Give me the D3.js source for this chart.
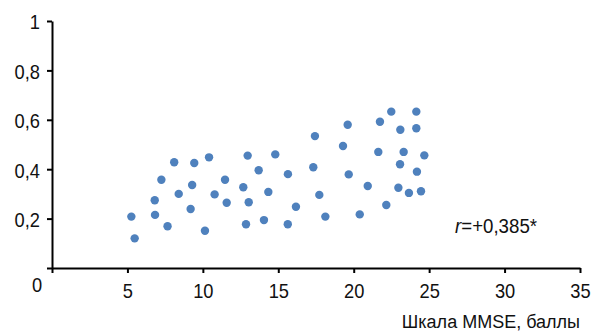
<!DOCTYPE html>
<html>
<head>
<meta charset="utf-8">
<script src="https://cdn.jsdelivr.net/npm/d3@7"></script>
<style>
  body { margin: 0; background: #fff; }
  svg text { font-family: "Liberation Sans Narrow", "Arial Narrow", "Liberation Sans", sans-serif; fill: #111; }
</style>
</head>
<body>
<svg></svg>
<script>
  // MMSE score (x) vs index value (y)
  var mmse = [5.26, 5.48, 6.81, 6.83, 7.25, 7.66, 8.10, 8.40, 9.19, 9.29,
              9.43, 10.14, 10.41, 10.78, 11.47, 11.58, 12.68, 12.86, 12.97, 13.04,
              13.70, 14.05, 14.34, 14.80, 15.63, 15.64, 16.17, 17.32, 17.43, 17.72,
              18.12, 19.29, 19.60, 19.67, 20.40, 20.93, 21.63, 21.74, 22.16, 22.49,
              22.96, 23.07, 23.09, 23.31, 23.66, 24.15, 24.15, 24.19, 24.46, 24.68];
  var values = [0.208, 0.120, 0.274, 0.215, 0.357, 0.169, 0.428, 0.300, 0.239, 0.336,
                0.425, 0.151, 0.448, 0.298, 0.357, 0.264, 0.327, 0.177, 0.455, 0.266,
                0.396, 0.194, 0.308, 0.460, 0.177, 0.380, 0.248, 0.408, 0.534, 0.296,
                0.208, 0.494, 0.580, 0.379, 0.217, 0.332, 0.470, 0.592, 0.255, 0.633,
                0.325, 0.420, 0.560, 0.470, 0.304, 0.633, 0.566, 0.390, 0.311, 0.456];
  var xTicks = [0, 5, 10, 15, 20, 25, 30, 35];
  var yTicks = [0, 0.2, 0.4, 0.6, 0.8, 1];
  var xTitle = "Шкала MMSE, баллы";

  var margin = { top: 21, right: 13, bottom: 65, left: 52 };
  var width = 593 - margin.left - margin.right;
  var height = 333 - margin.top - margin.bottom;
  var squeeze = 0.87; // condensed look of the original typeface

  var svg = d3.select("svg")
    .attr("width", 593)
    .attr("height", 333)
    .append("g")
    .attr("transform", "translate(" + margin.left + "," + margin.top + ")");

  var xScale = d3.scaleLinear().domain([0, 35]).range([0, width]);
  var yScale = d3.scaleLinear().domain([0, 1]).range([height, 0]);

  // y axis
  var yAxis = d3.axisLeft(yScale)
    .tickValues(yTicks)
    .tickSize(5)
    .tickSizeOuter(0)
    .tickPadding(7)
    .tickFormat(function(d) { return d === 0 ? "" : String(d).replace(".", ","); });
  var gy = svg.append("g").call(yAxis);
  gy.select(".domain").attr("stroke", "#000").attr("stroke-width", 2);
  gy.selectAll(".tick line").attr("stroke", "#000").attr("stroke-width", 2);
  gy.selectAll("text").style("font-size", "21px").attr("fill", "#111").attr("dy", "0.38em");

  // x axis
  var xAxis = d3.axisBottom(xScale)
    .tickValues(xTicks)
    .tickSize(5)
    .tickSizeOuter(0)
    .tickPadding(10)
    .tickFormat(function(d) { return d === 0 ? "" : d; });
  var gx = svg.append("g")
    .attr("transform", "translate(0," + height + ")")
    .call(xAxis);
  gx.select(".domain").attr("stroke", "#000").attr("stroke-width", 2);
  gx.selectAll(".tick line").attr("stroke", "#000").attr("stroke-width", 2);
  gx.selectAll("text").style("font-size", "21px").attr("fill", "#111");

  // shared zero label at the corner
  svg.append("text")
    .attr("x", xScale(0) - 15)
    .attr("y", yScale(0) + 24)
    .attr("text-anchor", "middle")
    .style("font-size", "21px")
    .text("0");

  // squeeze the tick labels
  svg.selectAll("text").each(function() {
    var w = this.getComputedTextLength();
    if (w > 0) {
      d3.select(this).attr("textLength", w * squeeze).attr("lengthAdjust", "spacingAndGlyphs");
    }
  });

  // axis title
  svg.append("text")
    .attr("x", width)
    .attr("y", height + 60)
    .attr("text-anchor", "end")
    .style("font-size", "18px")
    .text(xTitle);

  // points
  svg.selectAll("circle")
    .data(mmse)
    .enter()
    .append("circle")
    .attr("cx", function(d) { return xScale(d); })
    .attr("cy", function(d, i) { return yScale(values[i]); })
    .attr("r", 4.2)
    .attr("fill", "#4f81bd");

  // correlation note
  var note = svg.append("g")
    .attr("transform", "translate(" + (455 - margin.left) + "," + (233 - margin.top) + ") scale(" + 0.89 + ",1)")
    .append("text")
    .style("font-size", "21px");
  note.append("tspan").style("font-style", "italic").text("r");
  note.append("tspan").text("=+0,385*");
</script>
</body>
</html>
